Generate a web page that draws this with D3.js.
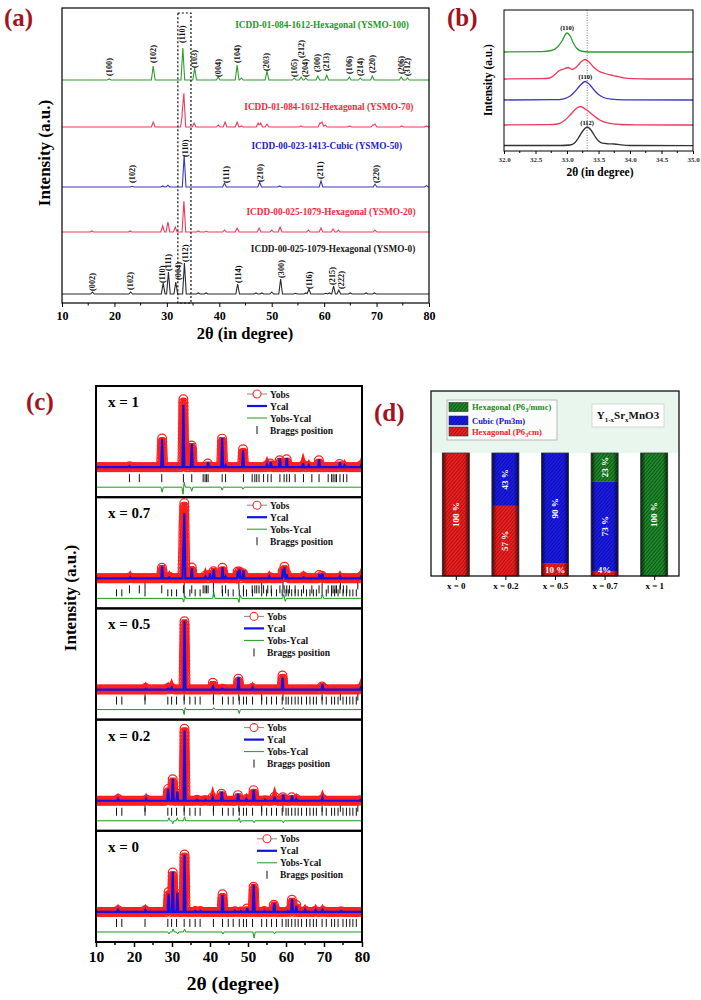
<!DOCTYPE html>
<html><head><meta charset="utf-8">
<script src="https://cdn.jsdelivr.net/npm/d3@7"></script>
<style>
body{margin:0;background:#fff}
svg{display:block}
text{font-family:"Liberation Serif","Times New Roman",serif;font-weight:bold}
</style>
</head><body><script>
// ======================= DATA =======================
// ---- Panel (a): XRD patterns, peaks as [2theta, intensity a.u.] ----
const aTicks = [10,20,30,40,50,60,70,80];
const aNames = ["YSMO-100","YSMO-70","YSMO-50","YSMO-20","YSMO-0"];
const aTitles = ["ICDD-01-084-1612-Hexagonal (YSMO-100)","ICDD-01-084-1612-Hexagonal (YSMO-70)",
  "ICDD-00-023-1413-Cubic (YSMO-50)","ICDD-00-025-1079-Hexagonal (YSMO-20)","ICDD-00-025-1079-Hexagonal (YSMO-0)"];
const aOffsets = [669,528,348,213,27];
const aPk100 = [[19.0,3],[27.4,42],[33.05,96],[35.3,36],[39.8,9],[43.4,45],[44.2,6],[49.1,27],[54.3,6],[55.6,9],[56.5,6],[58.8,12],[60.5,15],[64.8,9],[66.9,6],[69.2,12],[74.7,9],[75.9,6]];
const aPk70 = [[27.4,15],[32.95,36],[33.25,96],[35.2,12],[39.8,6],[41.1,15],[43.4,15],[44.2,3],[47.4,12],[47.9,12],[49.1,9],[55.6,3],[59.2,12],[59.6,15],[60.2,6],[64.8,3],[69.3,6],[69.7,9],[74.8,3],[79.5,3]];
const aPk50 = [[23.4,2],[29.2,3],[30.2,5],[33.3,96],[41.0,12],[47.7,15],[51.5,3],[59.4,18],[69.7,9],[79.5,4]];
const aPk20 = [[15.7,3],[23.0,3],[29.2,18],[30.2,30],[31.6,15],[33.25,93],[36.0,3],[37.5,2],[41.0,6],[43.4,12],[47.6,12],[50.0,6],[51.6,15],[57.0,6],[59.4,12],[61.7,9],[62.7,6],[69.7,6]];
const aPk0 = [[15.8,6],[23.1,6],[29.3,33],[30.3,66],[31.7,36],[33.35,93],[36.0,3],[37.5,3],[43.5,30],[47.0,3],[48.1,3],[50.0,6],[51.7,45],[54.5,2],[56.5,3],[57.1,15],[60.3,2],[61.0,3],[61.8,24],[62.8,12],[65.0,3],[68.0,3],[69.6,3]];
// Miller-index annotations [2theta, label, anchor intensity above baseline]
const aLab100 = [[19.0,"(100)",12],[27.4,"(102)",51],[33.05,"(110)",111],[35.3,"(103)",36],[39.8,"(004)",9],[43.4,"(104)",51],[49.1,"(203)",27],[54.3,"(105)",9],[55.6,"(212)",66],[56.5,"(204)",9],[58.8,"(300)",24],[60.5,"(213)",27],[64.8,"(106)",18],[66.9,"(214)",12],[69.2,"(220)",21],[74.7,"(206)",18],[75.9,"(312)",12]];
const aLab50 = [[23.4,"(102)",12],[33.6,"(110)",90],[41.3,"(111)",12],[47.8,"(210)",15],[59.4,"(211)",24],[69.9,"(220)",12]];
const aLab0 = [[15.9,"(002)",9],[23.1,"(102)",12],[29.1,"(110)",33],[30.3,"(111)",69],[32.2,"(004)",42],[33.5,"(112)",96],[43.6,"(114)",33],[51.8,"(300)",48],[57.2,"(116)",15],[61.6,"(215)",27],[63.3,"(222)",15]];
// title anchors [2theta centre, intensity above baseline]
const aTitleAt = [[59.6,157],[60.9,50],[60.5,115],[61.3,50],[61.7,125]];
const aBox = [32.1,34.6];

// ---- Panel (b): zoom 32-35 deg, curves [2theta, intensity] ----
const bTicks = [32.0,32.5,33.0,33.5,34.0,34.5,35.0];
const bOffsets = [99,72,51,26,5];
const bCurve100 = [[32,0],[32.6,0.3],[32.75,1.5],[32.85,5],[32.92,11],[32.98,18],[33.0,19],[33.05,16],[33.1,9],[33.15,4],[33.22,1],[33.35,0],[35,0]];
const bCurve70 = [[32,0],[32.6,0.3],[32.72,1],[32.8,4],[32.87,8],[32.95,10],[33.02,11.5],[33.08,9.5],[33.15,12],[33.22,17],[33.29,19.5],[33.35,17],[33.42,12],[33.5,8],[33.6,5.5],[33.7,4],[33.8,2.5],[33.9,1.2],[34.05,0.4],[34.3,0],[35,0]];
const bCurve50 = [[32,0],[32.8,0.3],[32.95,1.2],[33.05,4],[33.12,8],[33.2,14],[33.29,18.5],[33.36,15.5],[33.43,10],[33.5,5.5],[33.58,2.5],[33.7,0.8],[33.9,0.2],[35,0]];
const bCurve20 = [[32,0],[32.7,0.3],[32.85,1],[32.95,4],[33.05,10],[33.13,15.5],[33.21,18.5],[33.29,16],[33.37,12],[33.45,8],[33.52,5],[33.6,2.8],[33.7,1.3],[33.85,0.5],[34.1,0.1],[35,0]];
const bCurve0 = [[32,0.5],[32.9,0.5],[33.05,1],[33.12,3],[33.18,8],[33.25,15],[33.32,19],[33.38,16],[33.44,10],[33.5,5],[33.56,2.8],[33.65,2.2],[33.75,2],[33.85,1.2],[34.0,0.5],[35,0.3]];
const bRef = 33.32;
const bLabels = [[33.0,"(110)",0,22],[33.29,"(110)",2,21],[33.32,"(112)",4,21]];

// ---- Panel (c): Rietveld refinements, peaks [2theta, Yobs, Ycal] ----
const cNames = ["x = 1","x = 0.7","x = 0.5","x = 0.2","x = 0"];
const cPk1 = [[18.8,1,1],[27.4,29,28],[33.0,68,62],[35.2,24,23],[39.5,5,5],[43.2,30,29],[44.1,2,2],[48.7,18,17],[55.0,3,3],[56.0,6,5],[58.4,9,9],[60.2,9,9],[64.5,4,4],[66.0,2,2],[68.7,8,8],[74.2,5,5],[75.4,2,2],[79.9,3,3]];
const cPk07 = [[19,2,1],[27.4,13,12],[29.3,2,1],[33.0,40,30],[33.25,69,65],[35.2,11,10],[38.8,3,2],[40.0,6,5],[41.0,10,9],[43.3,11,11],[44.1,3,2],[47.3,8,7],[47.8,10,9],[48.8,8,8],[55.6,2,2],[59.2,10,9],[59.6,12,11],[60.2,5,4],[64.6,2,1],[68.8,5,4],[69.6,5,5],[74.2,2,2],[79.8,3,2]];
const cPk05 = [[23.1,2,1],[29.0,2,1],[29.9,3,2],[33.3,70,69],[40.8,8,4],[43.2,1,1],[47.5,12,13],[51.2,2,2],[59.1,15,12],[69.6,6,5],[79.7,3,2]];
const cPk02 = [[15.8,2,2],[23.2,2,2],[29.0,12,12],[30.2,23,22],[31.4,9,9],[33.3,73,70],[36.6,1,1],[38.8,1,1],[40.7,4,3],[43.1,9,9],[47.4,7,7],[49.6,2,2],[51.5,11,11],[54.5,1,1],[57.0,4,4],[59.3,6,6],[61.6,5,5],[62.7,2,2],[69.6,3,3],[79.6,1,1]];
const cPk0 = [[15.8,2,2],[23.0,2,2],[29.1,20,18],[30.2,40,40],[31.4,20,19],[33.3,59,57],[36.1,1,1],[37.5,1,1],[43.3,18,17],[46.5,1,1],[48.1,1,1],[49.8,5,4],[51.5,28,27],[54.3,1,1],[56.9,10,9],[60.5,1,1],[61.6,14,13],[62.7,7,6],[65,2,2],[67.8,2,2],[69.6,2,2],[74.5,1,1]];
const cDiff1 = [[27.4,-5],[32.9,-7],[33.2,5],[35.2,-4],[43.2,-3],[48.7,-2]];
const cDiff07 = [[33.1,-5],[33.3,4],[41.0,6],[47.6,-4],[48.0,3],[59.4,4],[59.8,-3],[69.6,4]];
const cDiff05 = [[33.2,-6],[33.4,3],[41.0,2],[47.7,-4],[59.3,2]];
const cDiff02 = [[29.2,3],[30.2,-3],[31.4,3],[33.3,4],[47.7,3],[48.0,-2],[51.6,-2],[59.3,-2]];
const cDiff0 = [[29.2,-2],[30.3,3],[31.5,-2],[33.3,3],[43.4,-2],[51.6,-6],[57.0,-2]];
const braggP63mmc = [18.8,21.4,27.3,33.0,35.2,38.2,38.7,39.1,39.5,43.2,44.1,48.8,51.1,51.8,52.3,52.9,54.1,55.2,56.1,58.4,59.5,60.2,60.9,62.4,64.6,66.8,68.7,71.1,72.0,72.4,72.9,73.3,74.2,75.1,76.0];
const braggCubic = [22.9,33.2,40.9,47.6,53.6,59.2,69.5,74.3,78.9];
const braggP63cm = [15.4,16.8,22.9,28.9,29.9,31.2,33.2,34.7,36.1,37.4,40.9,43.3,44.8,46.1,47.7,48.8,49.6,51.2,53.6,54.9,56.2,57.5,59.0,60.0,60.6,61.5,62.4,63.2,64.1,65.4,66.3,67.2,68.0,69.5,70.6,72.0,72.8,73.7,75.0,75.9,76.8,77.6,78.5];
const cLegend = ["Yobs","Ycal","Yobs-Ycal","Braggs position"];

// ---- Panel (d): phase fractions (%) ----
const dCats = ["x = 0","x = 0.2","x = 0.5","x = 0.7","x = 1"];
const dRed = [100,57,10,4,0];
const dBlue = [0,43,90,73,0];
const dGreen = [0,0,0,23,100];

// ======================= DRAWING =======================
const svg = d3.select("body").append("svg").attr("width",701).attr("height",1000);
const defs = svg.append("defs");
const PANEL_RED = "#a3141f";

function tentLine(peaks, hw, x0, x1){
  const xs = new Set([x0,x1]);
  peaks.forEach(([p])=>{xs.add(p-hw);xs.add(p);xs.add(p+hw);});
  return [...xs].filter(x=>x>=x0&&x<=x1).sort((a,b)=>a-b)
    .map(x=>[x, d3.sum(peaks,([p,h])=>Math.max(0,1-Math.abs(x-p)/hw)*h)]);
}
function panelLabel(t,x,y){
  svg.append("text").attr("x",x).attr("y",y).attr("font-size",25).attr("fill",PANEL_RED).text(t);
}

// ---------- (a) ----------
{
  const x = d3.scaleLinear().domain([10,80]).range([62,429]);
  const y = d3.scaleLinear().domain([0,885]).range([303,8]);
  const peaks = [aPk100,aPk70,aPk50,aPk20,aPk0];
  const lineCol = ["#2e9e2e","#f2385a","#3a3ab8","#f2385a","#2a2a2a"];
  const txtCol = ["#1e9a1e","#ff1f3d","#1c1cc4","#ff1f3d","#1a1a1a"];
  const labs = [aLab100,null,aLab50,null,aLab0];
  const g = svg.append("g");
  peaks.forEach((pk,i)=>{
    const off = aOffsets[i];
    g.append("path").datum(tentLine(pk,0.35,10,80))
      .attr("d",d3.line().x(d=>x(d[0])).y(d=>y(off+d[1])))
      .attr("fill","none").attr("stroke",lineCol[i]).attr("stroke-width",1.1);
    g.append("text").attr("x",x(aTitleAt[i][0])).attr("y",y(off+aTitleAt[i][1]))
      .attr("text-anchor","middle").attr("font-size",9.3).attr("fill",txtCol[i]).text(aTitles[i]);
    if(labs[i]) labs[i].forEach(([p,t,h])=>{
      g.append("text").attr("transform",`translate(${x(p)},${y(off+h)}) rotate(-90)`)
        .attr("dominant-baseline","central").attr("font-size",8.3).attr("fill","#111").text(t);
    });
  });
  g.append("rect").attr("x",x(aBox[0])).attr("y",13).attr("width",x(aBox[1])-x(aBox[0])).attr("height",303-13)
    .attr("fill","none").attr("stroke","#111").attr("stroke-width",1.2).attr("stroke-dasharray","2,2");
  g.append("rect").attr("x",62).attr("y",8).attr("width",367).attr("height",295).attr("fill","none").attr("stroke","#000").attr("stroke-width",1.2);
  const ax = g.append("g").attr("transform","translate(0,303)")
    .call(d3.axisBottom(x).tickValues(aTicks).tickSize(4).tickPadding(4).tickFormat(d3.format("d")));
  ax.select(".domain").remove();
  ax.selectAll("text").attr("font-size",12).attr("font-family",null).attr("fill","#000");
  g.append("g").attr("transform","translate(0,303)").selectAll("line").data(d3.range(15,80,10)).join("line")
    .attr("x1",d=>x(d)).attr("x2",d=>x(d)).attr("y1",0).attr("y2",2.5).attr("stroke","#000");
  g.append("text").attr("x",245).attr("y",339).attr("text-anchor","middle").attr("font-size",16.5).text("2θ (in degree)");
  g.append("text").attr("transform","translate(50,153) rotate(-90)").attr("text-anchor","middle").attr("font-size",17).text("Intensity (a.u.)");
  panelLabel("(a)",4,26);
}

// ---------- (b) ----------
{
  const x = d3.scaleLinear().domain([32,35]).range([504,693]);
  const y = d3.scaleLinear().domain([0,141]).range([151,10]);
  const curves = [bCurve100,bCurve70,bCurve50,bCurve20,bCurve0];
  const cols = ["#2e9e2e","#f2385a","#3a3ab8","#f2385a","#333"];
  const g = svg.append("g");
  g.append("line").attr("x1",x(bRef)).attr("x2",x(bRef)).attr("y1",10).attr("y2",151)
    .attr("stroke","#555").attr("stroke-width",0.8).attr("stroke-dasharray","1,1.5");
  curves.forEach((c,i)=>{
    g.append("path").datum(c).attr("d",d3.line().curve(d3.curveMonotoneX).x(d=>x(d[0])).y(d=>y(bOffsets[i]+d[1])))
      .attr("fill","none").attr("stroke",cols[i]).attr("stroke-width",1.3);
  });
  bLabels.forEach(([p,t,ci,h])=>{
    g.append("text").attr("x",x(p)).attr("y",y(bOffsets[ci]+h)).attr("text-anchor","middle").attr("font-size",6.5).text(t);
  });
  g.append("rect").attr("x",504).attr("y",10).attr("width",189).attr("height",141).attr("fill","none").attr("stroke","#000").attr("stroke-width",1);
  const ax = g.append("g").attr("transform","translate(0,151)")
    .call(d3.axisBottom(x).tickValues(bTicks).tickSize(3).tickPadding(3).tickFormat(d3.format(".1f")));
  ax.select(".domain").remove();
  ax.selectAll("text").attr("font-size",7).attr("font-family",null).attr("fill","#333");
  g.append("g").attr("transform","translate(0,151)").selectAll("line").data(d3.range(32.25,35,0.5)).join("line")
    .attr("x1",d=>x(d)).attr("x2",d=>x(d)).attr("y1",0).attr("y2",2).attr("stroke","#000");
  g.append("text").attr("x",600).attr("y",176).attr("text-anchor","middle").attr("font-size",11.5).text("2θ (in degree)");
  g.append("text").attr("transform","translate(492,80) rotate(-90)").attr("text-anchor","middle").attr("font-size",11.5).text("Intensity (a.u.)");
  panelLabel("(b)",447,26);
}

// ---------- (c) ----------
{
  const x = d3.scaleLinear().domain([10,80]).range([96,362]);
  const band = d3.scaleBand().domain(cNames).range([386,942]);
  const pks = [cPk1,cPk07,cPk05,cPk02,cPk0];
  const diffs = [cDiff1,cDiff07,cDiff05,cDiff02,cDiff0];
  const braggs = [[braggP63mmc],[braggP63mmc,braggCubic,braggP63cm],[braggP63cm,braggCubic],[braggP63cm,braggCubic],[braggP63cm]];
  const rowY = [[-7,-15],[-3,-11],[-11,-18]];
  const legShift = [0,0,-3,-3,10];
  const g = svg.append("g");
  cNames.forEach((nm,i)=>{
    const top = band(nm), h = band.bandwidth();
    const y = d3.scaleLinear().domain([-30,81]).range([top+h,top]);
    const cid = "clipc"+i;
    defs.append("clipPath").attr("id",cid).append("rect").attr("x",96).attr("y",top).attr("width",266).attr("height",h);
    const inner = g.append("g").attr("clip-path",`url(#${cid})`);
    const ln = d3.line().x(d=>x(d[0])).y(d=>y(d[1]));
    braggs[i].forEach((lst,k)=>{
      inner.append("g").selectAll("line").data(lst).join("line")
        .attr("x1",d=>x(d)).attr("x2",d=>x(d)).attr("y1",y(rowY[k][0])).attr("y2",y(rowY[k][1]))
        .attr("stroke","#111").attr("stroke-width",1);
    });
    inner.append("path").datum(tentLine(diffs[i],0.3,10,80).map(d=>[d[0],d[1]-20]))
      .attr("d",ln).attr("fill","none").attr("stroke","#1a9a1a").attr("stroke-width",1);
    const obs = inner.append("path").datum(tentLine(pks[i].map(d=>[d[0],d[1]]),0.3,10,80))
      .attr("d",ln).attr("fill","none").attr("stroke","#ff1a1a").attr("stroke-width",6);
    const node = obs.node(), L = node.getTotalLength();
    // marker placement along the observed profile (dense horizontally, spaced vertically)
    const pts = []; let last = null;
    for(let l=0;l<=L;l+=0.4){
      const p = node.getPointAtLength(l);
      if(!last || Math.abs(p.x-last.x)>=1.4 || Math.abs(p.y-last.y)>=3.2){ pts.push(p); last = p; }
    }
    inner.append("g").selectAll("circle").data(pts).join("circle")
      .attr("cx",d=>d.x).attr("cy",d=>d.y).attr("r",4.4)
      .attr("fill","none").attr("stroke","#ff2020").attr("stroke-width",1.2);
    inner.append("path").datum(tentLine(pks[i].map(d=>[d[0],d[2]]),0.25,10,80))
      .attr("d",ln).attr("fill","none").attr("stroke","#1212e8").attr("stroke-width",2.2);
    const lx = 247+legShift[i];
    const rows = [8,20,32,44].map(r=>top+r);
    const lg = g.append("g");
    lg.append("line").attr("x1",lx).attr("x2",lx+20).attr("y1",rows[0]).attr("y2",rows[0]).attr("stroke","#888").attr("stroke-width",1);
    lg.append("circle").attr("cx",lx+10).attr("cy",rows[0]).attr("r",4).attr("fill","#fff").attr("stroke","#ff3030").attr("stroke-width",1.1);
    lg.append("line").attr("x1",lx).attr("x2",lx+20).attr("y1",rows[1]).attr("y2",rows[1]).attr("stroke","#1212e8").attr("stroke-width",2.2);
    lg.append("line").attr("x1",lx).attr("x2",lx+20).attr("y1",rows[2]).attr("y2",rows[2]).attr("stroke","#1a9a1a").attr("stroke-width",1);
    lg.append("line").attr("x1",lx+10).attr("x2",lx+10).attr("y1",rows[3]-4).attr("y2",rows[3]+4).attr("stroke","#111").attr("stroke-width",1);
    cLegend.forEach((t,k)=>lg.append("text").attr("x",lx+23).attr("y",rows[k]+3.5).attr("font-size",9.5).attr("fill","#111").text(t));
    g.append("text").attr("x",108).attr("y",top+21).attr("font-size",15).text(nm);
    g.append("rect").attr("x",96).attr("y",top).attr("width",266).attr("height",h).attr("fill","none").attr("stroke","#000").attr("stroke-width",2);
  });
  const ax = g.append("g").attr("transform","translate(0,942)")
    .call(d3.axisBottom(x).tickValues(aTicks).tickSize(5).tickPadding(4).tickFormat(d3.format("d")));
  ax.select(".domain").remove();
  ax.selectAll("line").attr("stroke-width",1.5);
  ax.selectAll("text").attr("font-size",15.5).attr("font-family",null).attr("fill","#000");
  g.append("g").attr("transform","translate(0,942)").selectAll("line").data(d3.range(15,80,10)).join("line")
    .attr("x1",d=>x(d)).attr("x2",d=>x(d)).attr("y1",0).attr("y2",3).attr("stroke","#000").attr("stroke-width",1.5);
  g.append("text").attr("x",233).attr("y",990).attr("text-anchor","middle").attr("font-size",19.5).text("2θ (degree)");
  g.append("text").attr("transform","translate(76,598) rotate(-90)").attr("text-anchor","middle").attr("font-size",17).text("Intensity (a.u.)");
  panelLabel("(c)",26,410);
}

// ---------- (d) ----------
{
  function hatch(id, base, stripe){
    const p = defs.append("pattern").attr("id",id).attr("patternUnits","userSpaceOnUse")
      .attr("width",2.6).attr("height",2.6).attr("patternTransform","rotate(40)");
    p.append("rect").attr("width",2.6).attr("height",2.6).attr("fill",base);
    p.append("line").attr("x1",0.5).attr("y1",0).attr("x2",0.5).attr("y2",2.6).attr("stroke",stripe).attr("stroke-width",0.9);
  }
  hatch("hRed","#ee2020","#a81010");
  hatch("hBlue","#1c1cee","#0c0c98");
  hatch("hGreen","#1f8a2a","#0e5216");
  const gr = defs.append("linearGradient").attr("id","edgeShade").attr("x1","0").attr("x2","1").attr("y1","0").attr("y2","0");
  [[0,0.65],[0.18,0],[0.82,0],[1,0.65]].forEach(([o,a])=>gr.append("stop").attr("offset",o).attr("stop-color","#000").attr("stop-opacity",a));

  const x = d3.scalePoint().domain(dCats).range([431,679]).padding(0.5);
  const y = d3.scaleLinear().domain([0,100]).range([576,453]);
  const bw = 27;
  const g = svg.append("g");
  g.append("rect").attr("x",431).attr("y",391).attr("width",248).attr("height",62).attr("fill","#e9f6ee");
  const rows = dCats.map((c,i)=>({cat:c,red:dRed[i],blue:dBlue[i],green:dGreen[i]}));
  const keys = ["red","blue","green"];
  const fills = {red:"url(#hRed)",blue:"url(#hBlue)",green:"url(#hGreen)"};
  const stack = d3.stack().keys(keys)(rows);
  stack.forEach(layer=>{
    layer.forEach(seg=>{
      const v = seg[1]-seg[0]; if(v<=0) return;
      const cx = x(seg.data.cat);
      g.append("rect").attr("x",cx-bw/2).attr("y",y(seg[1])).attr("width",bw).attr("height",y(seg[0])-y(seg[1])).attr("fill",fills[layer.key]);
    });
  });
  rows.forEach(r=>{
    const cx = x(r.cat);
    g.append("rect").attr("x",cx-bw/2).attr("y",y(100)).attr("width",bw).attr("height",y(0)-y(100)).attr("fill","url(#edgeShade)").attr("stroke","#333").attr("stroke-width",0.8);
  });
  stack.forEach(layer=>{
    layer.forEach(seg=>{
      const v = seg[1]-seg[0]; if(v<=0) return;
      const cx = x(seg.data.cat), cy = y((seg[0]+seg[1])/2);
      if(v<15){
        g.append("text").attr("x",cx).attr("y",v<5?y(0)-3:cy+3).attr("text-anchor","middle").attr("font-size",9).attr("fill","#fff").text(v<5?`${v}%`:`${v} %`);
      } else {
        g.append("text").attr("transform",`translate(${cx},${cy}) rotate(-90)`).attr("text-anchor","middle").attr("dominant-baseline","central")
          .attr("font-size",9).attr("fill","#fff").text(`${v} %`);
      }
    });
  });
  g.append("rect").attr("x",431).attr("y",391).attr("width",248).attr("height",185).attr("fill","none").attr("stroke","#111").attr("stroke-width",1.3);
  const ax = g.append("g").attr("transform","translate(0,576)").call(d3.axisBottom(x).tickSize(4).tickPadding(3));
  ax.select(".domain").remove();
  ax.selectAll("text").attr("font-size",9).attr("font-family",null).attr("fill","#000");
  g.append("rect").attr("x",447).attr("y",400).attr("width",110).attr("height",40).attr("fill","#fbfdfb").attr("stroke","#aaa").attr("stroke-width",0.8);
  const leg = [["hGreen","#1a8a1a","Hexagonal (P6","3","/mmc)"],["hBlue","#1414c8","Cubic (Pm3m)","",""],["hRed","#ee1c24","Hexagonal (P6","3","cm)"]];
  leg.forEach((L,k)=>{
    const cy = [407,420.5,431.5][k];
    g.append("rect").attr("x",449).attr("y",cy-4.5).attr("width",19).attr("height",9).attr("fill",`url(#${L[0]})`).attr("stroke","#333").attr("stroke-width",0.6);
    const t = g.append("text").attr("x",472).attr("y",cy+3).attr("font-size",8.5).attr("fill",L[1]);
    t.append("tspan").text(L[2]);
    if(L[3]){ t.append("tspan").attr("font-size",6).attr("dy",2).text(L[3]); t.append("tspan").attr("dy",-2).text(L[4]); }
  });
  g.append("rect").attr("x",592).attr("y",404).attr("width",72).attr("height",23).attr("fill","#fff").attr("stroke","#ccc").attr("stroke-width",0.8);
  const t = g.append("text").attr("x",628).attr("y",419).attr("text-anchor","middle").attr("font-size",11).attr("fill","#111");
  t.append("tspan").text("Y");
  t.append("tspan").attr("font-size",7).attr("dy",2.5).text("1-x");
  t.append("tspan").attr("dy",-2.5).text("Sr");
  t.append("tspan").attr("font-size",7).attr("dy",2.5).text("x");
  t.append("tspan").attr("dy",-2.5).text("MnO3");
  panelLabel("(d)",374,421);
}
</script></body></html>
